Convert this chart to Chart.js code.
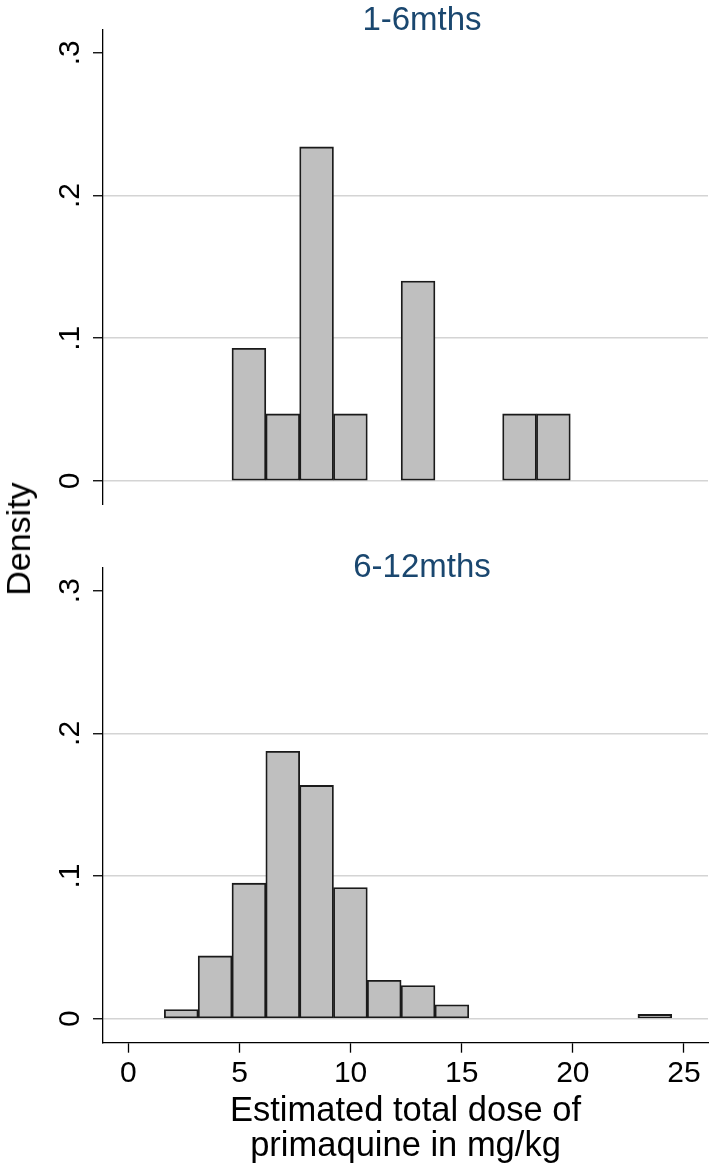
<!DOCTYPE html>
<html><head><meta charset="utf-8">
<script src="https://cdn.jsdelivr.net/npm/chart.js@4.4.1/dist/chart.umd.min.js"></script>
<style>
html,body{margin:0;padding:0;background:#fff;}
body{width:711px;height:1170px;position:relative;overflow:hidden;font-family:"Liberation Sans",Arial,sans-serif;}
canvas{position:absolute;left:0;display:block;}
#c1{top:0;}
#c2{top:520px;}
.ptitle{position:absolute;left:422px;transform:translateX(-50%);font-size:33px;line-height:33px;color:#1a476f;white-space:nowrap;}
#t1{top:2px;}
#t2{top:549px;}
#ylab{position:absolute;left:17.5px;top:539px;transform:translate(-50%,-50%) rotate(-90deg);font-size:34px;line-height:34px;color:#000;white-space:nowrap;}
</style></head><body>
<canvas id="c1" width="711" height="505"></canvas>
<canvas id="c2" width="711" height="650"></canvas>
<div id="t1" class="ptitle"></div>
<div id="t2" class="ptitle"></div>
<div id="ylab"></div>
<script>
// ---- data ----
const panelTitles = ["1-6mths", "6-12mths"];
const binMidsTop = [5.425, 6.947, 8.469, 9.991, 11.513, 13.035, 14.557, 16.079, 17.601, 19.123];
const densityTop = [0.093, 0.047, 0.234, 0.047, 0, 0.140, 0, 0, 0.047, 0.047];
const binMidsBottom = [2.381, 3.903, 5.425, 6.947, 8.469, 9.991, 11.513, 13.035, 14.557, 16.079, 17.601, 19.123, 20.645, 22.167, 23.689];
const densityBottom = [0.0065, 0.044, 0.095, 0.1875, 0.1635, 0.092, 0.027, 0.0233, 0.0098, 0, 0, 0, 0, 0, 0.003];
const xTickValues = [0, 5, 10, 15, 20, 25];
const xTickLabels = ["0", "5", "10", "15", "20", "25"];
const yTickValues = [0, 0.1, 0.2, 0.3];
const yTickLabels = ["0", ".1", ".2", ".3"];
const xAxisTitle = ["Estimated total dose of", "primaquine in mg/kg"];
const yAxisTitle = "Density";

const FONT = '"Liberation Sans", Arial, Helvetica, sans-serif';
document.getElementById('ylab').textContent = yAxisTitle;
document.getElementById('t1').textContent = panelTitles[0];
document.getElementById('t2').textContent = panelTitles[1];

function makeChart(canvas, mids, dens, padTop, isBottom) {
  const xScale = {
    type: 'linear', min: -1.14, max: 26.08, display: isBottom,
    offset: false,
    afterBuildTicks: s => { s.ticks = xTickValues.map(v => ({ value: v })); },
    grid: { display: true, offset: false, drawOnChartArea: false, drawTicks: true, tickLength: 10, tickWidth: 1.3, tickColor: '#000' },
    border: { display: true, color: '#000', width: 1.3 },
    ticks: {
      autoSkip: false, maxRotation: 0, minRotation: 0, padding: 3.5, color: '#000',
      font: { family: FONT, size: 30 },
      callback: (v, i) => xTickLabels[i]
    },
    title: {
      display: true, text: xAxisTitle, color: '#000',
      font: { family: FONT, size: 34.5, lineHeight: 1.0 },
      padding: { top: 0, bottom: 6.5 }
    }
  };
  if (isBottom) xScale.afterFit = s => { s.height = 127.3; s.paddingLeft = 0; s.paddingRight = 0; };
  return new Chart(canvas, {
    type: 'bar',
    data: {
      datasets: [{
        data: mids.map((x, i) => ({ x: x, y: dens[i] })),
        backgroundColor: '#bfbfbf',
        borderColor: '#1a1a1a',
        borderWidth: 1.8,
        borderSkipped: false,
        barPercentage: 1,
        categoryPercentage: 1
      }]
    },
    options: {
      responsive: false,
      animation: false,
      devicePixelRatio: 1,
      layout: { padding: { left: 0, right: 3, top: padTop, bottom: 0 } },
      plugins: {
        legend: { display: false },
        tooltip: { enabled: false },
        title: { display: false }
      },
      scales: {
        x: xScale,
        y: {
          type: 'linear', min: -0.0168, max: 0.3164, position: 'left',
          afterBuildTicks: s => { s.ticks = yTickValues.map(v => ({ value: v })); },
          afterFit: s => { s.width = 103; s.paddingTop = 0; s.paddingBottom = 0; },
          grid: {
            color: c => (c.tick && c.tick.value > 0.25) ? 'rgba(0,0,0,0)' : '#d4d4d4',
            lineWidth: 1.5, drawTicks: true, tickLength: 10, tickColor: '#000', tickWidth: 1.3
          },
          border: { display: true, color: '#000', width: 1.3 },
          ticks: {
            minRotation: 90, maxRotation: 90, crossAlign: 'center', padding: 10, color: '#000',
            font: { family: FONT, size: 30 },
            callback: (v, i) => yTickLabels[i]
          }
        }
      }
    }
  });
}

makeChart(document.getElementById('c1'), binMidsTop, densityTop, 29.3, false);
makeChart(document.getElementById('c2'), binMidsBottom, densityBottom, 47.3, true);
</script>
</body></html>
